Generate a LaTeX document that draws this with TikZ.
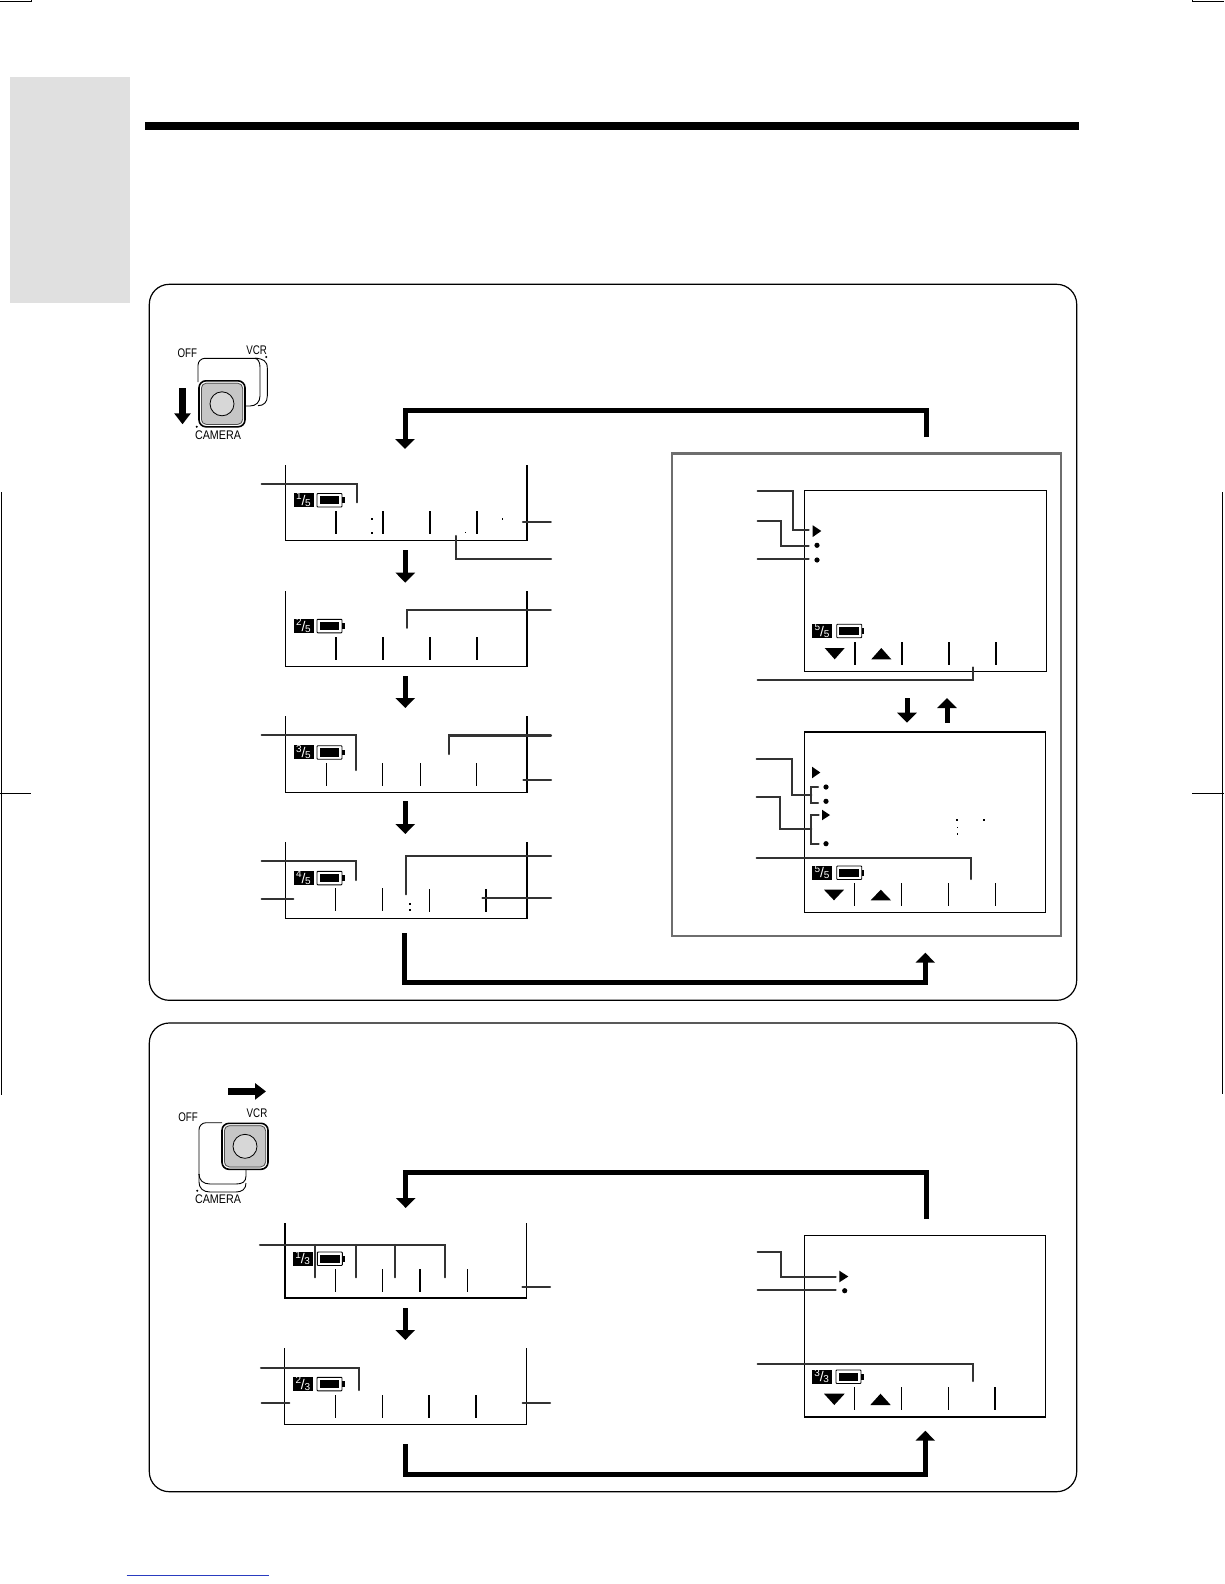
\documentclass[tikz,border=0pt]{standalone}
\usepackage{fontspec}
\setmainfont{Liberation Sans}
\usetikzlibrary{arrows.meta}
\definecolor{ldr}{HTML}{333333}
\definecolor{knobgray}{HTML}{C6C6C6}
\definecolor{panelgray}{HTML}{6E6E6E}
\definecolor{tabgray}{HTML}{E0E0E0}
\definecolor{linkblue}{HTML}{2A3CC0}
\newcommand{\badgetext}[2]{\smash{\raisebox{.3pt}{\fontsize{10}{10}\selectfont #1}\kern-.2pt\raisebox{-5.2pt}{\fontsize{14}{14}\selectfont /}\kern-.2pt\raisebox{-6.2pt}{\fontsize{10}{10}\selectfont #2}}}
\tikzset{
  x=1pt,y=-1pt,
  roundbox/.style={draw=black,line width=1.2pt,rounded corners=20pt},
  screenline/.style={draw=black,line width=1.3pt,line join=miter},
  tickthin/.style={draw=black,line width=1.1pt},
  tickbold/.style={draw=black,line width=1.6pt},
  leaderbold/.style={draw=ldr,line width=2.1pt,line cap=round,line join=miter},
  leaderthin/.style={draw=ldr,line width=1.6pt,line cap=round,line join=miter},
  loopflow/.style={draw=black,line width=5pt,line join=miter,-{Triangle[length=10pt,width=19pt]}},
  stepflow/.style={draw=black,line width=5pt,-{Triangle[length=10pt,width=19pt]}},
  slideflow/.style={draw=black,line width=7pt,-{Triangle[length=11pt,width=16pt]}},
  badgebox/.style={fill=black,text=white,minimum width=20pt,minimum height=14pt,inner sep=0pt},
  switchtext/.style={inner sep=0pt,font=\fontsize{12.5}{12.5}\selectfont,text=black},
  bodyline/.style={draw=black,line width=.9pt},
  battery/.pic={
    \draw[black,line width=.9pt,fill=white,rounded corners=.8pt] (0,0) rectangle (25,13.5);
    \fill[black] (2.6,2.6) rectangle (22.4,10.9);
    \fill[black] (25,3.8) rectangle (27.6,9.7);
  },
  knob/.pic={
    \draw[black,line width=1.6pt,fill=knobgray,rounded corners=7pt] (-23,-23) rectangle (23,23);
    \draw[white,line width=.7pt,rounded corners=6pt] (-21.6,-21.6) rectangle (21.6,21.6);
    \draw[black!70,line width=.7pt,rounded corners=5pt] (-20.6,-20.6) rectangle (20.6,20.6);
    \draw[black,line width=.8pt,fill=knobgray!70!white] (0,0) circle[radius=12];
  },
}
\begin{document}
\begin{tikzpicture}
\useasboundingbox (0,0) rectangle (1224,1584);
\fill[white] (0,0) rectangle (1224,1584);
% crop marks and page furniture
\draw[black,line width=1pt] (0,1.2) -- (31,1.2) -- (31,0);
\draw[black,line width=1pt] (1224,2) -- (1192.7,2) -- (1192.7,0);
\draw[black,line width=1pt] (1.5,492) -- (1.5,1095);
\draw[black,line width=1pt] (0,793.3) -- (31,793.3);
\draw[black,line width=1pt] (1222.3,492) -- (1222.3,1094);
\draw[black,line width=1pt] (1192,793.3) -- (1224,793.3);
\draw[linkblue,line width=1pt] (126.7,1575) -- (268.7,1575);
\fill[tabgray] (10,77.3) rectangle (130,302.7);
\fill[black] (145,122) rectangle (1079,130);
% outer boxes
\draw[roundbox] (149.3,284.3) rectangle (1076.7,1000.3);
\draw[roundbox] (149.3,1023) rectangle (1076.7,1491.7);
\draw[panelgray,line width=2.5pt] (672,453.3) rectangle (1061,936);

% ---- camera switch
\draw[bodyline,rounded corners=7pt] (198,382) -- (198,358.3) -- (258,358.3);
\draw[bodyline] (255,358.3) .. controls (258,359) and (260,362) .. (260,367) -- (260,396) .. controls (260,402) and (256,406) .. (250,406) -- (245,406);
\draw[bodyline] (255,358.3) .. controls (263,358.5) and (267.3,361) .. (267.3,368) -- (267.3,396) .. controls (267.3,402) and (264,405.7) .. (258,405.7);
\pic at (222,403.8) {knob};
\node[switchtext] (off1) at (187.3,353) {\scalebox{.78}[1]{OFF}};
\node[switchtext] (vcr1) at (256.7,349.7) {\scalebox{.78}[1]{VCR}};
\node[switchtext] (cam1) at (218,434.7) {\scalebox{.86}[1]{CAMERA}};
\fill[black] (266.3,357) circle[radius=1.1];
\fill[black] (196.7,426.7) circle[radius=1.1];
\draw[slideflow] (182.5,388) -- (182.5,424.3);

% ---- loop arrows, section one
\draw[loopflow] (926,437) -- (926,410.3) -- (405,410.3) -- (405,449);
\draw[loopflow] (404.3,933) -- (404.3,982) -- (925.3,982) -- (925.3,952.7);
\draw[stepflow] (405.3,550) -- (405.3,582.7);
\draw[stepflow] (405.3,676) -- (405.3,708);
\draw[stepflow] (405.3,801) -- (405.3,834);
\draw[stepflow] (907,698) -- (907,722.7);
\draw[stepflow] (947,722.7) -- (947,698);

% ---- screen 1/5
\draw[screenline] (285.5,465) -- (285.5,540.3) -- (527,540.3) -- (527,465);
\node[badgebox] (b11) at (303.5,500.2) {\badgetext{1}{5}};
\pic at (317,493.5) {battery};
\foreach \tx in {335.7,382.7,430,477} \draw[tickbold] (\tx,511) -- (\tx,533.7);
\fill[black] (371,518) rectangle +(1.8,1.8);
\fill[black] (371,532) rectangle +(1.8,1.8);
\fill[black] (464.8,532.2) rectangle +(1.2,1.2);
\fill[black] (501.8,518) rectangle +(1.6,1.6);
\draw[leaderbold] (261.7,484) -- (357,484) -- (357,502.3);
\draw[leaderthin] (522.7,522) -- (551,522);
\draw[leaderbold] (456,536) -- (456,559.3) -- (551,559.3);

% ---- screen 2/5
\draw[screenline] (285.5,591) -- (285.5,666.3) -- (527,666.3) -- (527,591);
\node[badgebox] (b12) at (303.5,626) {\badgetext{2}{5}};
\pic at (317,619.3) {battery};
\foreach \tx in {335.7,382.7,430,477} \draw[tickbold] (\tx,637) -- (\tx,660);
\draw[leaderthin] (407,628) -- (407,610) -- (551,610);

% ---- screen 3/5
\draw[screenline] (285.5,716) -- (285.5,792.3) -- (527,792.3) -- (527,716);
\node[badgebox] (b13) at (303.5,752.4) {\badgetext{3}{5}};
\pic at (317,745.7) {battery};
\foreach \tx in {326.3,382.3,420.3,476.3} \draw[tickthin] (\tx,763.3) -- (\tx,785.7);
\draw[leaderbold] (261.7,735) -- (356,735) -- (356,770);
\draw[leaderbold] (449.3,754) -- (449.3,735.5) -- (551,735.5);
\draw[leaderbold] (523.3,780) -- (551,780);

% ---- screen 4/5
\draw[screenline] (285.5,842) -- (285.5,918.3) -- (527,918.3) -- (527,842);
\node[badgebox] (b14) at (303.5,878) {\badgetext{4}{5}};
\pic at (317,871.3) {battery};
\foreach \tx in {335.3,382.3} \draw[tickthin] (\tx,888) -- (\tx,910.7);
\draw[tickthin] (429.3,889) -- (429.3,912);
\draw[tickbold] (486,889) -- (486,912);
\fill[black] (409.2,903) rectangle +(1.6,1.6);
\fill[black] (409.2,909.2) rectangle +(1.6,1.6);
\draw[leaderbold] (261.7,861.3) -- (356,861.3) -- (356,880);
\draw[leaderbold] (406,894.3) -- (406,856) -- (551,856);
\draw[leaderbold] (261.7,899.3) -- (293.3,899.3);
\draw[leaderbold] (482.3,898.3) -- (551,898.3);

% ---- panel screen upper
\draw[screenline] (804.7,490.7) rectangle (1046.3,671.3);
\fill[black] (812.7,525.3) -- (821.3,531) -- (812.7,537) -- cycle;
\fill[black] (817,545.3) circle[radius=2.6];
\fill[black] (817,560) circle[radius=2.6];
\node[badgebox] (b15) at (822,631) {\badgetext{5}{5}};
\pic at (836.7,624.2) {battery};
\foreach \tx in {855,902,949,996} \draw[tickbold] (\tx,642) -- (\tx,664.7);
\fill[black] (824.7,648) -- (844.7,648) -- (834.7,659.3) -- cycle;
\fill[black] (871.3,659.3) -- (891.3,659.3) -- (881.3,648) -- cycle;
\draw[leaderbold] (757.7,491) -- (793,491) -- (793,530) -- (808.7,530);
\draw[leaderbold] (757.7,521) -- (781.3,521) -- (781.3,546) -- (808.7,546);
\draw[leaderbold] (757.7,559.3) -- (808.7,559.3);
\draw[leaderbold] (972.7,667.3) -- (972.7,679.7) -- (757.7,679.7);

% ---- panel screen lower
\draw[screenline,line width=1.5pt] (804.3,732) rectangle (1045.7,912.7);
\fill[black] (812,766.7) -- (820.3,772.5) -- (812,778.3) -- cycle;
\fill[black] (826,787) circle[radius=2.6];
\fill[black] (826,801.3) circle[radius=2.6];
\fill[black] (822,809.7) -- (830,815) -- (822,820.3) -- cycle;
\fill[black] (826,843.7) circle[radius=2.6];
\fill[black] (956.3,819) rectangle +(1.6,1.6);
\fill[black] (956.8,826.6) rectangle +(1.3,1.3);
\fill[black] (956.8,833.3) rectangle +(1.3,1.3);
\fill[black] (983.2,819) rectangle +(1.6,1.6);
\node[badgebox] (b16) at (822,872.7) {\badgetext{5}{5}};
\pic at (836.7,866) {battery};
\foreach \tx in {854.3,901.3,948.3,995.3} \draw[tickthin] (\tx,883) -- (\tx,905.7);
\fill[black] (824,889.7) -- (844,889.7) -- (834,900.3) -- cycle;
\fill[black] (870.7,900.3) -- (891,900.3) -- (880.8,889.7) -- cycle;
\draw[leaderbold] (756.7,759) -- (792,759) -- (792,794.7) -- (811.3,794.7);
\draw[leaderbold] (818,786.7) -- (811.3,786.7) -- (811.3,802.7) -- (818,802.7);
\draw[leaderbold] (756.7,797) -- (780.3,797) -- (780.3,829.3) -- (811.3,829.3);
\draw[leaderbold] (818.7,814.7) -- (811.3,814.7) -- (811.3,844) -- (818.7,844);
\draw[leaderbold] (756.7,858.3) -- (971,858.3) -- (971,879);

% ---- VCR switch
\draw[bodyline,rounded corners=7pt] (222,1122.7) -- (199,1122.7) -- (199,1175);
\draw[bodyline] (199,1174) .. controls (199,1180) and (203,1184) .. (210,1184) -- (236,1184) .. controls (242,1184) and (246,1182) .. (246,1176) -- (246,1169);
\draw[bodyline] (199,1174) -- (199,1182) .. controls (199,1188) and (203,1192) .. (210,1192) -- (236,1192) .. controls (242,1192) and (246,1189) .. (246,1183);
\pic at (245,1146.3) {knob};
\node[switchtext] (off2) at (188,1117) {\scalebox{.78}[1]{OFF}};
\node[switchtext] (vcr2) at (257,1113) {\scalebox{.78}[1]{VCR}};
\node[switchtext] (cam2) at (218,1199) {\scalebox{.86}[1]{CAMERA}};
\fill[black] (197.3,1190.7) circle[radius=1.1];
\draw[slideflow] (228,1091.4) -- (266,1091.4);

% ---- loop arrows, section two
\draw[loopflow] (926,1219) -- (926,1172.3) -- (405.7,1172.3) -- (405.7,1208);
\draw[loopflow] (405.3,1444) -- (405.3,1474) -- (925.3,1474) -- (925.3,1430.7);
\draw[stepflow] (405.3,1308) -- (405.3,1340);

% ---- screen 1/3
\draw[screenline] (285,1223.3) -- (285,1298) -- (526.7,1298) -- (526.7,1223.3);
\node[badgebox] (b21) at (302.7,1258.7) {\badgetext{1}{3}};
\pic at (317.3,1252) {battery};
\foreach \tx in {335.7,382.3,420,467.7} \draw[tickthin] (\tx,1269.3) -- (\tx,1292);
\draw[leaderbold] (260,1245) -- (445,1245) -- (445,1277.3);
\draw[leaderbold] (315.3,1245) -- (315.3,1277.3);
\draw[leaderbold] (356.3,1245) -- (356.3,1277.3);
\draw[leaderbold] (395.3,1245) -- (395.3,1277.3);
\draw[leaderbold] (522.3,1287.3) -- (550,1287.3);

% ---- screen 2/3
\draw[screenline] (284.7,1348.3) -- (284.7,1424.3) -- (526.3,1424.3) -- (526.3,1348.3);
\node[badgebox] (b22) at (302.9,1384) {\badgetext{2}{3}};
\pic at (317,1377.3) {battery};
\foreach \tx in {335.3,382.3} \draw[tickthin] (\tx,1395) -- (\tx,1417.7);
\foreach \tx in {429,476} \draw[tickbold] (\tx,1395) -- (\tx,1417.7);
\draw[leaderbold] (261,1368) -- (359,1368) -- (359,1390);
\draw[leaderbold] (261.7,1403.3) -- (289.3,1403.3);
\draw[leaderbold] (522.7,1403.3) -- (550,1403.3);

% ---- screen 3/3
\draw[screenline,line width=1.5pt] (804.3,1235.7) rectangle (1045.3,1417);
\fill[black] (839.3,1270.7) -- (848.3,1276.5) -- (839.3,1282.3) -- cycle;
\fill[black] (844.7,1290.7) circle[radius=2.6];
\node[badgebox] (b23) at (821.7,1376.7) {\badgetext{3}{3}};
\pic at (836,1370) {battery};
\foreach \tx in {854.3,901.3,948.3} \draw[tickthin] (\tx,1387) -- (\tx,1409.7);
\draw[tickbold] (995,1387) -- (995,1409.7);
\fill[black] (824,1393.7) -- (844.7,1393.7) -- (834.3,1405) -- cycle;
\fill[black] (870.3,1405) -- (890.7,1405) -- (880.5,1393.7) -- cycle;
\draw[leaderbold] (757.7,1251.7) -- (781.3,1251.7) -- (781.3,1277) -- (835.7,1277);
\draw[leaderbold] (757.7,1290.3) -- (835.7,1290.3);
\draw[leaderbold] (757.7,1363.7) -- (972.7,1363.7) -- (972.7,1381);
\end{tikzpicture}
\end{document}
